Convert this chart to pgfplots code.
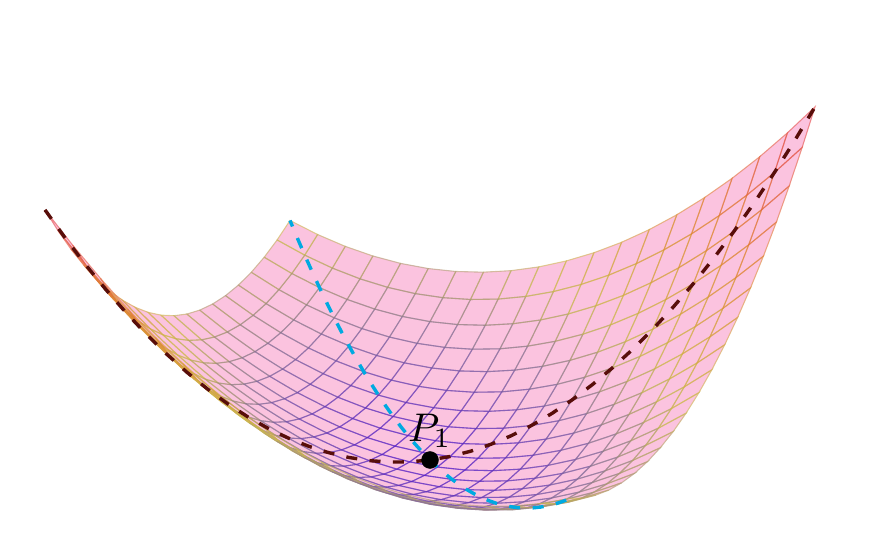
\documentclass[border=0pt]{standalone}
\usepackage{pgfplots}
\usepackage{pgfplotstable}
\pgfplotsset{compat=1.18}
\pgfplotsset{
  colormap={pinkfill}{rgb255(0)=(251,195,223) rgb255(1)=(251,195,223)},
  colormap={edgemap}{rgb255(0)=(85,30,200) rgb255(150)=(137,116,146) rgb255(300)=(203,189,73) rgb255(600)=(223,136,46) rgb255(1000)=(230,56,73)}
}
\definecolor{darkline}{RGB}{88,14,10}
\definecolor{blueline}{RGB}{0,170,225}
\pgfplotstableread[row sep=\\]{
p q z\\
-19 -19 1083\\-19 -17 973\\-19 -15 871\\-19 -13 777\\-19 -11 691\\-19 -9 613\\-19 -7 543\\-19 -5 481\\-19 -3 427\\-19 -1 381\\-19 1 343\\-19 3 313\\-19 5 291\\-19 7 277\\-19 9 271\\-19 11 273\\-19 13 283\\-19 15 301\\-19 17 327\\-19 19 361\\
-17 -19 973\\-17 -17 867\\-17 -15 769\\-17 -13 679\\-17 -11 597\\-17 -9 523\\-17 -7 457\\-17 -5 399\\-17 -3 349\\-17 -1 307\\-17 1 273\\-17 3 247\\-17 5 229\\-17 7 219\\-17 9 217\\-17 11 223\\-17 13 237\\-17 15 259\\-17 17 289\\-17 19 327\\
-15 -19 871\\-15 -17 769\\-15 -15 675\\-15 -13 589\\-15 -11 511\\-15 -9 441\\-15 -7 379\\-15 -5 325\\-15 -3 279\\-15 -1 241\\-15 1 211\\-15 3 189\\-15 5 175\\-15 7 169\\-15 9 171\\-15 11 181\\-15 13 199\\-15 15 225\\-15 17 259\\-15 19 301\\
-13 -19 777\\-13 -17 679\\-13 -15 589\\-13 -13 507\\-13 -11 433\\-13 -9 367\\-13 -7 309\\-13 -5 259\\-13 -3 217\\-13 -1 183\\-13 1 157\\-13 3 139\\-13 5 129\\-13 7 127\\-13 9 133\\-13 11 147\\-13 13 169\\-13 15 199\\-13 17 237\\-13 19 283\\
-11 -19 691\\-11 -17 597\\-11 -15 511\\-11 -13 433\\-11 -11 363\\-11 -9 301\\-11 -7 247\\-11 -5 201\\-11 -3 163\\-11 -1 133\\-11 1 111\\-11 3 97\\-11 5 91\\-11 7 93\\-11 9 103\\-11 11 121\\-11 13 147\\-11 15 181\\-11 17 223\\-11 19 273\\
-9 -19 613\\-9 -17 523\\-9 -15 441\\-9 -13 367\\-9 -11 301\\-9 -9 243\\-9 -7 193\\-9 -5 151\\-9 -3 117\\-9 -1 91\\-9 1 73\\-9 3 63\\-9 5 61\\-9 7 67\\-9 9 81\\-9 11 103\\-9 13 133\\-9 15 171\\-9 17 217\\-9 19 271\\
-7 -19 543\\-7 -17 457\\-7 -15 379\\-7 -13 309\\-7 -11 247\\-7 -9 193\\-7 -7 147\\-7 -5 109\\-7 -3 79\\-7 -1 57\\-7 1 43\\-7 3 37\\-7 5 39\\-7 7 49\\-7 9 67\\-7 11 93\\-7 13 127\\-7 15 169\\-7 17 219\\-7 19 277\\
-5 -19 481\\-5 -17 399\\-5 -15 325\\-5 -13 259\\-5 -11 201\\-5 -9 151\\-5 -7 109\\-5 -5 75\\-5 -3 49\\-5 -1 31\\-5 1 21\\-5 3 19\\-5 5 25\\-5 7 39\\-5 9 61\\-5 11 91\\-5 13 129\\-5 15 175\\-5 17 229\\-5 19 291\\
-3 -19 427\\-3 -17 349\\-3 -15 279\\-3 -13 217\\-3 -11 163\\-3 -9 117\\-3 -7 79\\-3 -5 49\\-3 -3 27\\-3 -1 13\\-3 1 7\\-3 3 9\\-3 5 19\\-3 7 37\\-3 9 63\\-3 11 97\\-3 13 139\\-3 15 189\\-3 17 247\\-3 19 313\\
-1 -19 381\\-1 -17 307\\-1 -15 241\\-1 -13 183\\-1 -11 133\\-1 -9 91\\-1 -7 57\\-1 -5 31\\-1 -3 13\\-1 -1 3\\-1 1 1\\-1 3 7\\-1 5 21\\-1 7 43\\-1 9 73\\-1 11 111\\-1 13 157\\-1 15 211\\-1 17 273\\-1 19 343\\
1 -19 343\\1 -17 273\\1 -15 211\\1 -13 157\\1 -11 111\\1 -9 73\\1 -7 43\\1 -5 21\\1 -3 7\\1 -1 1\\1 1 3\\1 3 13\\1 5 31\\1 7 57\\1 9 91\\1 11 133\\1 13 183\\1 15 241\\1 17 307\\1 19 381\\
3 -19 313\\3 -17 247\\3 -15 189\\3 -13 139\\3 -11 97\\3 -9 63\\3 -7 37\\3 -5 19\\3 -3 9\\3 -1 7\\3 1 13\\3 3 27\\3 5 49\\3 7 79\\3 9 117\\3 11 163\\3 13 217\\3 15 279\\3 17 349\\3 19 427\\
5 -19 291\\5 -17 229\\5 -15 175\\5 -13 129\\5 -11 91\\5 -9 61\\5 -7 39\\5 -5 25\\5 -3 19\\5 -1 21\\5 1 31\\5 3 49\\5 5 75\\5 7 109\\5 9 151\\5 11 201\\5 13 259\\5 15 325\\5 17 399\\5 19 481\\
7 -19 277\\7 -17 219\\7 -15 169\\7 -13 127\\7 -11 93\\7 -9 67\\7 -7 49\\7 -5 39\\7 -3 37\\7 -1 43\\7 1 57\\7 3 79\\7 5 109\\7 7 147\\7 9 193\\7 11 247\\7 13 309\\7 15 379\\7 17 457\\7 19 543\\
9 -19 271\\9 -17 217\\9 -15 171\\9 -13 133\\9 -11 103\\9 -9 81\\9 -7 67\\9 -5 61\\9 -3 63\\9 -1 73\\9 1 91\\9 3 117\\9 5 151\\9 7 193\\9 9 243\\9 11 301\\9 13 367\\9 15 441\\9 17 523\\9 19 613\\
11 -19 273\\11 -17 223\\11 -15 181\\11 -13 147\\11 -11 121\\11 -9 103\\11 -7 93\\11 -5 91\\11 -3 97\\11 -1 111\\11 1 133\\11 3 163\\11 5 201\\11 7 247\\11 9 301\\11 11 363\\11 13 433\\11 15 511\\11 17 597\\11 19 691\\
13 -19 283\\13 -17 237\\13 -15 199\\13 -13 169\\13 -11 147\\13 -9 133\\13 -7 127\\13 -5 129\\13 -3 139\\13 -1 157\\13 1 183\\13 3 217\\13 5 259\\13 7 309\\13 9 367\\13 11 433\\13 13 507\\13 15 589\\13 17 679\\13 19 777\\
15 -19 301\\15 -17 259\\15 -15 225\\15 -13 199\\15 -11 181\\15 -9 171\\15 -7 169\\15 -5 175\\15 -3 189\\15 -1 211\\15 1 241\\15 3 279\\15 5 325\\15 7 379\\15 9 441\\15 11 511\\15 13 589\\15 15 675\\15 17 769\\15 19 871\\
17 -19 327\\17 -17 289\\17 -15 259\\17 -13 237\\17 -11 223\\17 -9 217\\17 -7 219\\17 -5 229\\17 -3 247\\17 -1 273\\17 1 307\\17 3 349\\17 5 399\\17 7 457\\17 9 523\\17 11 597\\17 13 679\\17 15 769\\17 17 867\\17 19 973\\
19 -19 361\\19 -17 327\\19 -15 301\\19 -13 283\\19 -11 273\\19 -9 271\\19 -7 277\\19 -5 291\\19 -3 313\\19 -1 343\\19 1 381\\19 3 427\\19 5 481\\19 7 543\\19 9 613\\19 11 691\\19 13 777\\19 15 871\\19 17 973\\19 19 1083\\
}\surfdata
\begin{document}
\begin{tikzpicture}[x=1pt,y=1pt]
\useasboundingbox (0,0) rectangle (886,536);
\begin{axis}[
  at={(430pt,76pt)}, anchor=origin,
  hide axis, clip=false,
  x={(13.8158pt,-2.3026pt)}, y={(6.4474pt,5.0132pt)}, z={(0pt,0.2785pt)},
  xmin=-19,xmax=19,ymin=-19,ymax=19,zmin=0,zmax=1083,
  point meta min=0, point meta max=1083,
]
\addplot3[surf, z buffer=none, colormap name=pinkfill, shader=faceted, faceted color=mapped color, line width=0.3pt, mesh/rows=20, mesh/cols=20] table[x=p,y=q,z=z] {\surfdata};
\addplot3[mesh, z buffer=none, colormap name=edgemap, line width=1.1pt, opacity=0.55, mesh/rows=20, mesh/cols=20] table[x=p,y=q,z=z] {\surfdata};
\addplot3[blueline, line width=3.4pt, dash pattern=on 11pt off 12.55pt, dash phase=4.5pt, no marks] coordinates {
(-19,19,361)(-18,18,324)(-17,17,289)(-16,16,256)(-15,15,225)(-14,14,196)(-13,13,169)(-12,12,144)(-11,11,121)(-10,10,100)(-9,9,81)(-8,8,64)(-7,7,49)(-6,6,36)(-5,5,25)(-4,4,16)(-3,3,9)(-2,2,4)(-1,1,1)(0,0,0)(1,-1,1)(2,-2,4)(3,-3,9)(4,-4,16)(5,-5,25)(6,-6,36)(7,-7,49)(8,-8,64)(9,-9,81)(10,-10,100)(11,-11,121)(12,-12,144)(13,-13,169)(14,-14,196)(15,-15,225)(16,-16,256)(17,-17,289)(18,-18,324)(19,-19,361)};
\addplot3[darkline, line width=3.4pt, dash pattern=on 11pt off 12.45pt, no marks] coordinates {
(-19,-19,1083)(-18,-18,972)(-17,-17,867)(-16,-16,768)(-15,-15,675)(-14,-14,588)(-13,-13,507)(-12,-12,432)(-11,-11,363)(-10,-10,300)(-9,-9,243)(-8,-8,192)(-7,-7,147)(-6,-6,108)(-5,-5,75)(-4,-4,48)(-3,-3,27)(-2,-2,12)(-1,-1,3)(0,0,0)(1,1,3)(2,2,12)(3,3,27)(4,4,48)(5,5,75)(6,6,108)(7,7,147)(8,8,192)(9,9,243)(10,10,300)(11,11,363)(12,12,432)(13,13,507)(14,14,588)(15,15,675)(16,16,768)(17,17,867)(18,18,972)(19,19,1083)};
\addplot3[only marks, mark=*, mark size=8.5pt, black, mark options={draw=none, fill=black}] coordinates {(0,0,0)};
\node[anchor=base west, inner sep=0pt, scale=4, xshift=-5.7pt, yshift=4.6pt] at (axis cs:0,0,0) {$P_1$};
\end{axis}
\end{tikzpicture}
\end{document}
